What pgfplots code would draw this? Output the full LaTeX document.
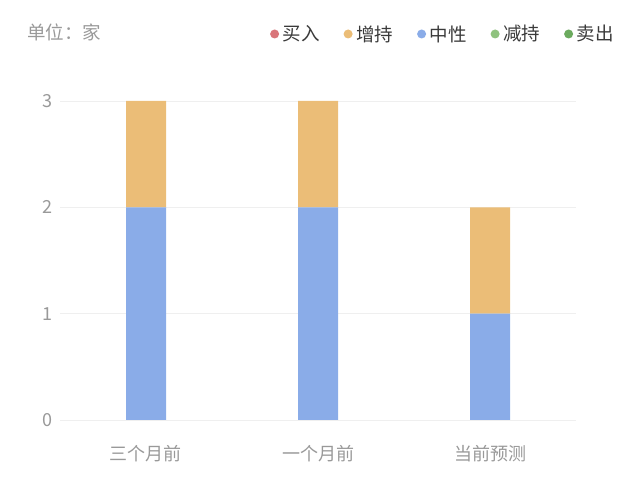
\documentclass[border=0pt]{standalone}
\usepackage{fontspec}
\setmainfont{Noto Sans CJK SC}
\usepackage{pgfplots}
\pgfplotsset{compat=1.18}
\definecolor{cbuy}{HTML}{D9757A}
\definecolor{cadd}{HTML}{EBBD77}
\definecolor{cneu}{HTML}{8AACE8}
\definecolor{cred}{HTML}{8FC27E}
\definecolor{csell}{HTML}{6BAA5E}
\definecolor{tgray}{HTML}{999999}
\definecolor{ttext}{HTML}{3A3A3A}
\definecolor{cgrid}{HTML}{EFEFEF}
\begin{document}
\begin{tikzpicture}[x=1pt,y=1pt]
\path[use as bounding box] (0,0) rectangle (640,487);
\node[anchor=west, text=tgray, font=\fontsize{18.5}{21}\selectfont, inner sep=0pt] at (27,455) {单位：家};
\begin{axis}[
  at={(60pt,67pt)}, anchor=south west,
  scale only axis, width=516pt, height=319pt,
  xmin=-0.5, xmax=2.5, ymin=0, ymax=3,
  ybar stacked, bar width=40pt,
  axis line style={draw=none},
  major tick length=0pt,
  ymajorgrids, grid style={color=cgrid, line width=0.8pt},
  xtick={0,1,2}, xticklabels={三个月前,一个月前,当前预测},
  ytick={0,1,2,3},
  /pgf/number format/assume math mode=true,
  tick label style={text=tgray, font=\fontsize{18}{21}\selectfont},
  yticklabel style={xshift=-4pt},
  xticklabel style={yshift=-22pt},
  legend columns=5,
  legend image code/.code={\fill[#1, draw=none] (0,0) circle (4.5pt); \path[draw=none, fill=none] (0,0) -- (6pt,0);},
  legend style={draw=none, fill=none, at={(1.083,1.25)}, anchor=north east,
    font=\fontsize{18.5}{21}\selectfont, text=ttext,
    /tikz/every even column/.append style={column sep=22pt}},
]
\addlegendimage{cbuy}\addlegendentry{买入}
\addlegendimage{cadd}\addlegendentry{增持}
\addlegendimage{cneu}\addlegendentry{中性}
\addlegendimage{cred}\addlegendentry{减持}
\addlegendimage{csell}\addlegendentry{卖出}
\addplot[fill=cneu, draw=none, forget plot] coordinates {(0,2) (1,2) (2,1)};
\addplot[fill=cadd, draw=none, forget plot] coordinates {(0,1) (1,1) (2,1)};
\end{axis}
\end{tikzpicture}
\end{document}
